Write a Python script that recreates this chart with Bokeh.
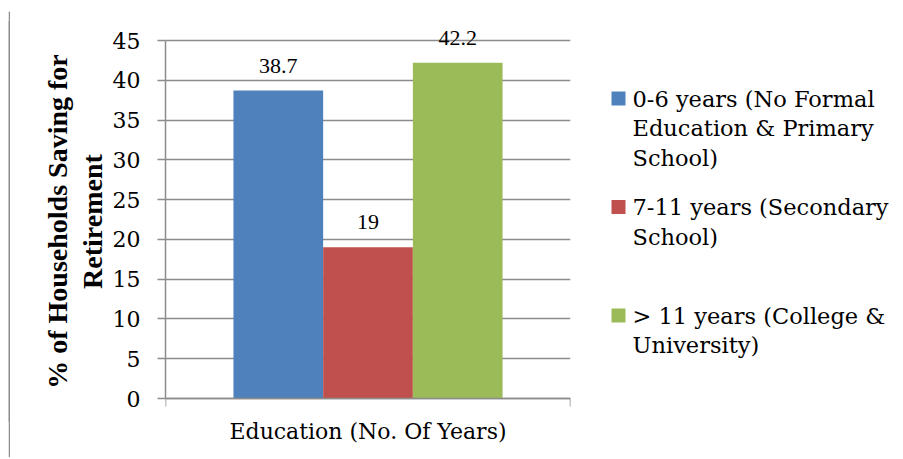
from bokeh.plotting import figure
from bokeh.models import Range1d, ColumnDataSource, LabelSet, FixedTicker, LinearAxis
from bokeh.layouts import row, column
from bokeh.embed import file_html
from bokeh.resources import INLINE

# ---- data ----
series = [
    "0-6 years (No Formal\nEducation & Primary\nSchool)",
    "7-11 years (Secondary\nSchool)",
    "> 11 years (College &\nUniversity)",
]
values = [38.7, 19, 42.2]
colors = ["#4F81BD", "#C0504D", "#9BBB59"]
category = "Education (No. Of Years)"
y_ticks = [0, 5, 10, 15, 20, 25, 30, 35, 40, 45]
y_title = "% of Households Saving for\nRetirement"

# ---- styling / layout ----
SERIF = "DejaVu Serif"
FS = "22px"
GRID = "#8c8c8c"
BORDER = "#8c8c8c"
BAR_W = 0.2215
Y_MAX = 45

W1, W2, H = 588, 303, 446
OX, OY = 10, 11                      # page position of the plot canvases
AX_L, AX_R, AX_T, AX_B = 165, 570, 40, 398   # page px of the value axis box
FRAME_T, FRAME_B = 20, 422                     # frame incl. headroom/footroom
PX_PER_UNIT = (AX_B - AX_T) / Y_MAX
Y_LO = -(FRAME_B - AX_B) / PX_PER_UNIT
Y_HI = Y_MAX + (AX_T - FRAME_T) / PX_PER_UNIT

xs = [0.5 + (i - (len(values) - 1) / 2) * BAR_W for i in range(len(values))]
labels = [f"{v:g}" for v in values]
src = ColumnDataSource(dict(x=xs, top=values, color=colors, label=labels))

p = figure(width=W1, height=H, x_range=Range1d(0, 1), y_range=Range1d(Y_LO, Y_HI),
           output_backend="svg", toolbar_location=None, x_axis_location=None,
           min_border_left=AX_L - OX, min_border_right=OX + W1 - AX_R,
           min_border_top=FRAME_T - OY, min_border_bottom=H - (FRAME_B - OY))
p.outline_line_color = None
p.background_fill_color = "white"
p.border_fill_color = "white"

p.vbar(x="x", top="top", bottom=0, width=BAR_W, fill_color="color", line_color=None, source=src)

p.xgrid.visible = False
p.ygrid.ticker = FixedTicker(ticks=y_ticks)
p.ygrid.grid_line_color = GRID
p.ygrid.grid_line_width = 1.5

# category axis line drawn at value 0
xax = LinearAxis(fixed_location=0, ticker=FixedTicker(ticks=[0, 1]),
                 major_label_overrides={0: "", 1: ""})
# axis carrying the category title below the frame
xtitle = LinearAxis(ticker=FixedTicker(ticks=[]), axis_line_color=None,
                    major_tick_line_color=None, minor_tick_line_color=None,
                    axis_label=category, axis_label_standoff=-4,
                    axis_label_text_font=SERIF, axis_label_text_font_size=FS,
                    axis_label_text_font_style="normal", axis_label_text_color="black")
p.add_layout(xax, "below")
p.add_layout(xtitle, "below")

p.yaxis.ticker = FixedTicker(ticks=y_ticks)
p.yaxis.bounds = (0, Y_MAX)
for ax in (xax, p.yaxis[0]):
    ax.axis_line_color = GRID
    ax.axis_line_width = 1.5
    ax.major_tick_line_color = GRID
    ax.major_tick_line_width = 1.5
    ax.major_tick_in = 0
    ax.major_tick_out = 8
    ax.minor_tick_line_color = None
    ax.major_label_text_font = SERIF
    ax.major_label_text_font_size = FS
    ax.major_label_text_color = "black"

p.yaxis.major_label_standoff = 17
p.yaxis.axis_label = y_title
p.yaxis.axis_label_text_font = "Liberation Serif"
p.yaxis.axis_label_text_font_size = "28px"
p.yaxis.axis_label_text_font_style = "bold"
p.yaxis.axis_label_text_color = "black"
p.yaxis.axis_label_text_line_height = 1.1
p.yaxis.axis_label_standoff = 2

p.add_layout(LabelSet(x="x", y="top", text="label", source=src, y_offset=18,
                      text_align="center", text_baseline="alphabetic",
                      text_font=SERIF, text_font_size=FS, text_color="black"))

# ---- legend panel (frame is aligned with the plot frame; ranges in page px) ----
ITEM_Y0, ITEM_STEP, LINE_STEP = 98, 108.5, 29.5
SQ_X, TXT_X = 618, 632
lg = figure(width=W2, height=H, x_range=Range1d(OX + W1, OX + W1 + W2),
            y_range=Range1d(FRAME_B, FRAME_T),
            output_backend="svg", toolbar_location=None, min_border=0,
            x_axis_location=None, y_axis_location=None)
lg.outline_line_color = None
lg.grid.visible = False
lg.background_fill_color = "white"
lg.border_fill_color = "white"

sq_y = [ITEM_Y0 + i * ITEM_STEP for i in range(len(series))]
lg.scatter(x=[SQ_X] * len(series), y=sq_y, marker="square", size=14,
           fill_color=colors, line_color=None)
tx, ty, tt = [], [], []
for i, s in enumerate(series):
    for j, line in enumerate(s.split("\n")):
        tx.append(TXT_X)
        ty.append(sq_y[i] + j * LINE_STEP)
        tt.append(line)
lg.text(x=tx, y=ty, text=tt, text_font={"value": SERIF}, text_font_size={"value": "22.5px"},
        text_baseline="middle", text_align="left", text_color="black")


# ---- chart-area border (top and left edges), painted as small filled canvases ----
def edge(w, h, pad_top=0):
    e = figure(width=w, height=h, output_backend="svg", toolbar_location=None,
               min_border=0, min_border_top=pad_top,
               x_axis_location=None, y_axis_location=None,
               x_range=Range1d(0, 1), y_range=Range1d(0, 1))
    e.grid.visible = False
    e.outline_line_color = None
    e.background_fill_color = BORDER
    e.border_fill_color = "white" if pad_top else BORDER
    return e


top_edge = edge(2 + W1 + W2, 4, pad_top=2)
left_edge = edge(2, H)

layout = column(top_edge, row(left_edge, p, lg, margin=0),
                margin=(OY - 4, 0, 0, OX - 2))

open("out.html", "w").write(file_html(layout, INLINE))
